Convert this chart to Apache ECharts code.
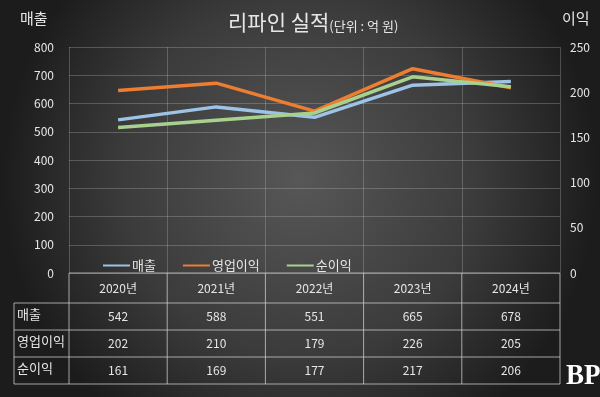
<!DOCTYPE html>
<html>
<head>
<meta charset="utf-8">
<script src="https://cdn.jsdelivr.net/npm/echarts@6/dist/echarts.min.js"></script>
<style>
  html, body { margin: 0; padding: 0; background: #2a2a2a; }
  #chart { width: 600px; height: 397px; }
</style>
</head>
<body>
<div id="chart"></div>
<script>
// data
const years = ['2020년', '2021년', '2022년', '2023년', '2024년'];
const sales = [542, 588, 551, 665, 678];
const opProfit = [202, 210, 179, 226, 205];
const netProfit = [161, 169, 177, 217, 206];
const seriesNames = ['매출', '영업이익', '순이익'];
const leftTicks = { min: 0, max: 800, interval: 100 };
const rightTicks = { min: 0, max: 250, interval: 50 };

const font = '"Noto Sans CJK KR", "Noto Sans", sans-serif';
const txt = '#e6e6e6';
const gridCol = 'rgba(200,200,200,0.28)';
const tableCol = 'rgba(210,210,210,0.75)';

// plot area in pixels
const G = { left: 69, right: 40, top: 47, bottom: 124 };
const W = 600, H = 397;
const plotR = W - G.right, plotB = H - G.bottom;
const colW = (plotR - G.left) / years.length;
// table rows (header, sales, op profit, net profit)
const rowY = [plotB, 303, 330, 357, 384];
const tableLeft = 14;

const chart = echarts.init(document.getElementById('chart'));

const rows = [sales, opProfit, netProfit];

// category axes used as table rows
const tableAxes = rows.map((r, i) => ({
  type: 'category',
  gridIndex: 0,
  position: 'bottom',
  data: r.map(String),
  offset: 0,
  axisLine: { show: false },
  axisTick: { show: false },
  splitLine: { show: false },
  axisLabel: {
    color: txt, fontSize: 12, fontFamily: font,
    verticalAlign: 'middle',
    margin: (rowY[i + 1] + rowY[i + 2]) / 2 - plotB
  }
}));

const lines = [];
// vertical table lines
for (let i = 0; i <= years.length; i++) {
  const x = G.left + colW * i;
  lines.push({ type: 'line', shape: { x1: x, y1: rowY[0], x2: x, y2: rowY[4] },
    style: { stroke: tableCol, lineWidth: 1 } });
}
lines.push({ type: 'line', shape: { x1: tableLeft, y1: rowY[1], x2: tableLeft, y2: rowY[4] },
  style: { stroke: tableCol, lineWidth: 1 } });
// horizontal table lines
rowY.forEach((y, i) => {
  lines.push({ type: 'line', shape: { x1: i === 0 ? G.left : tableLeft, y1: y, x2: plotR, y2: y },
    style: { stroke: tableCol, lineWidth: 1 } });
});
// row labels
seriesNames.forEach((n, i) => {
  lines.push({ type: 'text', left: 17, top: (rowY[i + 1] + rowY[i + 2]) / 2 - 9,
    style: { text: n, fill: txt, font: '13px ' + font } });
});

chart.setOption({
  backgroundColor: {
    type: 'radial', x: 0.5, y: 0.45, r: 0.75,
    colorStops: [
      { offset: 0, color: '#575757' },
      { offset: 0.6, color: '#3b3b3b' },
      { offset: 1, color: '#1c1c1c' }
    ]
  },
  animation: false,
  textStyle: { fontFamily: font },
  title: {
    text: '리파인 실적{s|(단위 : 억 원)}',
    left: 223, top: 7,
    textStyle: {
      color: txt, fontSize: 21, fontWeight: 'normal', fontFamily: font,
      rich: { s: { fontSize: 13, color: txt, fontFamily: font, padding: [7, 0, 0, 0] } }
    }
  },
  legend: {
    left: 98, top: 254,
    icon: 'rect', itemWidth: 27, itemHeight: 2, itemGap: 27,
    textStyle: { color: txt, fontSize: 13, fontFamily: font, padding: [0, 0, 0, -3] }
  },
  grid: { left: G.left, right: G.right, top: G.top, bottom: G.bottom },
  xAxis: [{
    type: 'category',
    data: years,
    boundaryGap: true,
    axisLine: { show: false },
    axisTick: { show: false },
    splitLine: { show: true, lineStyle: { color: gridCol } },
    axisLabel: { color: txt, fontSize: 12, fontFamily: font, verticalAlign: 'middle', margin: (rowY[0] + rowY[1]) / 2 - plotB }
  }].concat(tableAxes),
  yAxis: [{
    type: 'value', ...leftTicks,
    axisLine: { show: false }, axisTick: { show: false },
    splitLine: { lineStyle: { color: gridCol } },
    axisLabel: { color: txt, fontSize: 12, fontFamily: font, margin: 15 }
  }, {
    type: 'value', ...rightTicks,
    axisLine: { show: false }, axisTick: { show: false },
    splitLine: { show: false },
    axisLabel: { color: txt, fontSize: 12, fontFamily: font, margin: 10 }
  }],
  graphic: lines.concat([
    { type: 'text', left: 20, top: 11, style: { text: '매출', fill: txt, font: '15px ' + font } },
    { type: 'text', left: 562, top: 11, style: { text: '이익', fill: txt, font: '15px ' + font } },
    { type: 'text', left: 566, top: 361, scaleX: 0.9, style: { text: 'BP', fill: '#ffffff', font: 'bold 30px "Liberation Serif", serif' } }
  ]),
  series: [
    { name: seriesNames[0], type: 'line', data: sales, yAxisIndex: 0, xAxisIndex: 0,
      symbol: 'none', lineStyle: { width: 3.5, color: '#9dc3e6' }, itemStyle: { color: '#9dc3e6' } },
    { name: seriesNames[1], type: 'line', data: opProfit, yAxisIndex: 1, xAxisIndex: 0,
      symbol: 'none', lineStyle: { width: 3.5, color: '#ed7d31' }, itemStyle: { color: '#ed7d31' } },
    { name: seriesNames[2], type: 'line', data: netProfit, yAxisIndex: 1, xAxisIndex: 0,
      symbol: 'none', lineStyle: { width: 3.5, color: '#a9d18e' }, itemStyle: { color: '#a9d18e' } }
  ]
});
</script>
</body>
</html>
